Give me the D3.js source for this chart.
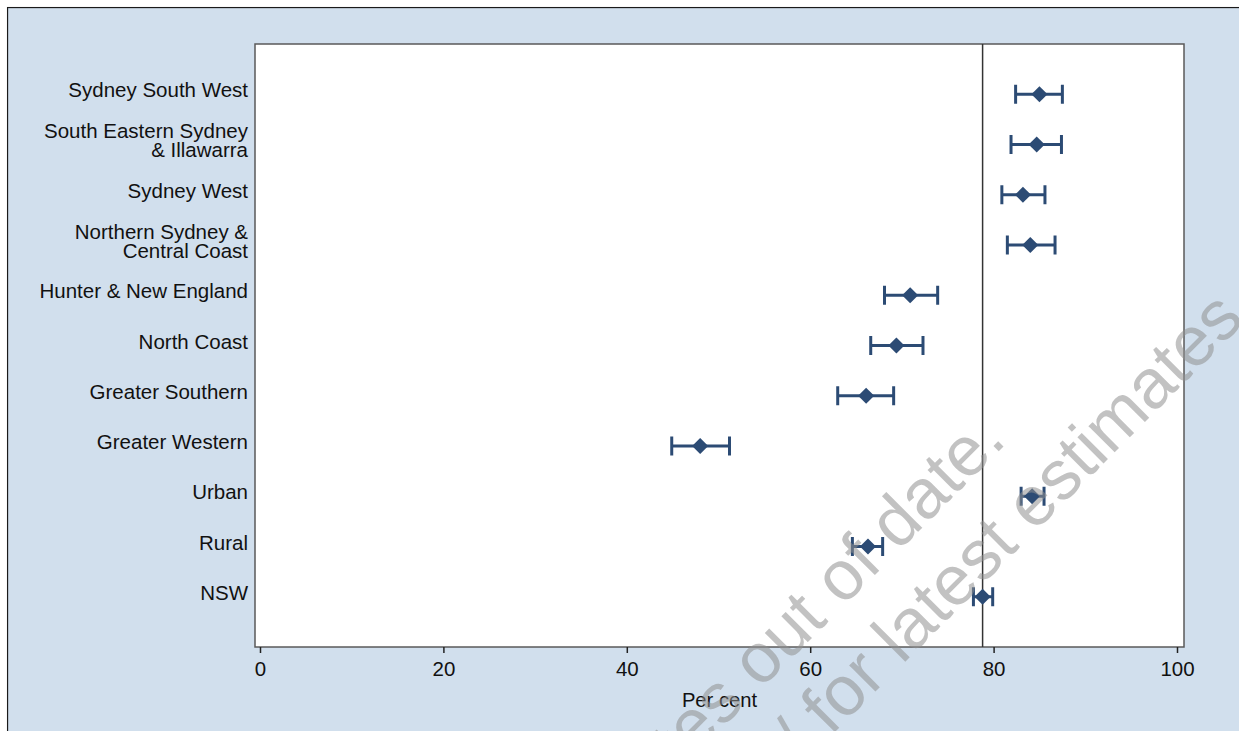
<!DOCTYPE html>
<html>
<head>
<meta charset="utf-8">
<script src="https://cdn.jsdelivr.net/npm/d3@7"></script>
<style>
  html, body { margin: 0; padding: 0; background: #ffffff; }
  svg { display: block; }
  text { font-family: "Liberation Sans", Arial, Helvetica, sans-serif; }
</style>
</head>
<body>
<svg id="chart" width="1239" height="731"></svg>
<script>
// Area health services, rurality and state total (per cent, with 95% CI)
const categories = [
  ["Sydney South West"],
  ["South Eastern Sydney", "& Illawarra"],
  ["Sydney West"],
  ["Northern Sydney &", "Central Coast"],
  ["Hunter & New England"],
  ["North Coast"],
  ["Greater Southern"],
  ["Greater Western"],
  ["Urban"],
  ["Rural"],
  ["NSW"]
];
const estimates = [85.0, 84.7, 83.2, 84.0, 70.9, 69.4, 66.1, 48.0, 84.2, 66.3, 78.8];
const lowerCI   = [82.4, 81.9, 80.9, 81.5, 68.1, 66.6, 63.0, 44.9, 83.0, 64.6, 77.8];
const upperCI   = [87.5, 87.4, 85.6, 86.7, 73.9, 72.3, 69.1, 51.2, 85.5, 67.9, 79.9];
const referenceValue = 78.8;
const xTicks = [0, 20, 40, 60, 80, 100];
const xTitle = "Per cent";
const noticeLines = ["These estimates out of date.", "See www.health.nsw.gov.au/ for latest estimates"];

const svg = d3.select("#chart");
const W = 1239, H = 731;
const plot = { left: 255, top: 44, right: 1184, bottom: 647 };
const ink = "#2c4b74";

// outer graph region (continues past the visible canvas)
svg.append("rect").attr("x", 7.5).attr("y", 7.5)
  .attr("width", W + 40).attr("height", H + 40)
  .attr("fill", "#d1dfed").attr("stroke", "#1a1a1a").attr("stroke-width", 1.3);

// plot region
svg.append("rect").attr("x", plot.left).attr("y", plot.top)
  .attr("width", plot.right - plot.left).attr("height", plot.bottom - plot.top)
  .attr("fill", "#ffffff").attr("stroke", "#5a5a5a").attr("stroke-width", 1.5);

const x = d3.scaleLinear().domain([0, 100]).range([260, 1177]);
const y = d3.scalePoint().domain(d3.range(categories.length))
  .range([plot.top, plot.bottom]).padding(1);

// x axis
const xAxis = svg.append("g")
  .attr("transform", `translate(0,${plot.bottom})`)
  .call(d3.axisBottom(x).tickValues(xTicks).tickSize(6).tickPadding(8).tickFormat(d3.format("d")));
xAxis.select(".domain").remove();
xAxis.selectAll(".tick line").attr("stroke", "#222").attr("stroke-width", 1.5);
xAxis.selectAll(".tick text").attr("font-size", 20.5).attr("fill", "#111")
  .attr("font-family", "'Liberation Sans', Arial, sans-serif");

svg.append("text").attr("x", (plot.left + plot.right) / 2).attr("y", 707)
  .attr("text-anchor", "middle").attr("font-size", 20.2).attr("fill", "#111")
  .text(xTitle);

// category labels
const labels = svg.append("g");
categories.forEach((lines, i) => {
  const t = labels.append("text")
    .attr("x", 248).attr("text-anchor", "end")
    .attr("font-size", 20.5).attr("fill", "#111");
  const lh = 19;
  const y0 = y(i) - (lines.length - 1) * lh / 2 + 3.2;
  lines.forEach((ln, k) => {
    t.append("tspan").attr("x", 248).attr("y", y0 + k * lh).text(ln);
  });
});

// reference line for the state total
svg.append("line")
  .attr("x1", x(referenceValue)).attr("x2", x(referenceValue))
  .attr("y1", plot.top).attr("y2", plot.bottom)
  .attr("stroke", "#333").attr("stroke-width", 1.5);

// confidence intervals
const rows = estimates.map((v, i) => ({ i, v, lo: lowerCI[i], hi: upperCI[i] }));
const ci = svg.append("g").attr("stroke", ink).attr("stroke-width", 3).attr("fill", "none");
rows.forEach(d => {
  const cy = y(d.i);
  ci.append("line").attr("x1", x(d.lo)).attr("x2", x(d.hi)).attr("y1", cy).attr("y2", cy);
  ci.append("line").attr("x1", x(d.lo)).attr("x2", x(d.lo)).attr("y1", cy - 9.5).attr("y2", cy + 9.5);
  ci.append("line").attr("x1", x(d.hi)).attr("x2", x(d.hi)).attr("y1", cy - 9.5).attr("y2", cy + 9.5);
});

// point estimates as diamonds
const diamond = d3.symbol().type(d3.symbolSquare).size(130);
svg.append("g").selectAll("path").data(rows).join("path")
  .attr("d", diamond)
  .attr("transform", d => `translate(${x(d.v)},${y(d.i)}) rotate(45)`)
  .attr("fill", ink);

// notice overlay
const notice = svg.append("g").attr("fill", "#8f8f8f").attr("fill-opacity", 0.55)
  .attr("font-size", 70);
notice.append("text").attr("text-anchor", "end")
  .attr("transform", "translate(1008,442) rotate(-45)").text(noticeLines[0]);
notice.append("text").attr("text-anchor", "end")
  .attr("transform", "translate(1246,321) rotate(-45)").text(noticeLines[1]);

// blank margin outside the graph region
svg.append("rect").attr("x", 0).attr("y", 0).attr("width", W).attr("height", 6.8).attr("fill", "#fff");
svg.append("rect").attr("x", 0).attr("y", 0).attr("width", 6.8).attr("height", H).attr("fill", "#fff");
</script>
</body>
</html>
